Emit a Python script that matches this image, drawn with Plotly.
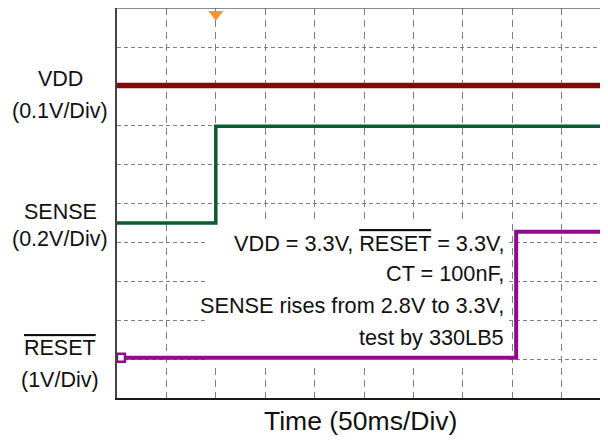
import plotly.graph_objects as go

# time in ms (50 ms / div), levels in screen divisions (0 = bottom, 10 = top)
vdd_t = [0, 500]
vdd_lvl = [8.01, 8.01]
sense_t = [0, 100, 100, 500]
sense_lvl = [4.49, 4.49, 6.97, 6.97]
reset_t = [0, 404, 404, 500]
reset_lvl = [1.03, 1.03, 4.26, 4.26]

trigger_t = [100]
note_lines = [
    'VDD = 3.3V, <span style="text-decoration:overline">RESET</span> = 3.3V,',
    'CT = 100nF,',
    'SENSE rises from 2.8V to 3.3V,',
    'test by 330LB5',
]
note_y = [3.97, 3.18, 2.38, 1.56]
label_text = ['VDD', '(0.1V/Div)', 'SENSE', '(0.2V/Div)',
              '<span style="text-decoration:overline">RESET</span>', '(1V/Div)']
label_y = [8.18, 7.36, 4.77, 4.08, 1.28, 0.46]
x_title = "Time (50ms/Div)"

FONT = "Liberation Sans, Arial, sans-serif"
fig = go.Figure()

fig.add_trace(go.Scatter(x=vdd_t, y=vdd_lvl, mode="lines",
                         line=dict(color="#860808", width=5.5), hoverinfo="skip"))
fig.add_trace(go.Scatter(x=sense_t, y=sense_lvl, mode="lines",
                         line=dict(color="#0c5c2c", width=3.5), hoverinfo="skip"))
fig.add_trace(go.Scatter(x=reset_t, y=reset_lvl, mode="lines",
                         line=dict(color="#900a90", width=4), hoverinfo="skip"))
fig.add_trace(go.Scatter(x=[4], y=[reset_lvl[0]], mode="markers",
                         marker=dict(symbol="square", size=8, color="white",
                                     line=dict(color="#900a90", width=2.5)),
                         hoverinfo="skip", cliponaxis=False))
fig.add_trace(go.Scatter(x=trigger_t, y=[9.84], mode="markers",
                         marker=dict(symbol="triangle-down", size=13, color="#f29436",
                                     line=dict(width=0)),
                         hoverinfo="skip", cliponaxis=False))

# white box behind note text (covers grid, below traces)
fig.add_shape(type="rect", xref="x", yref="y", x0=89, x1=395, y0=0.82, y1=4.5,
              fillcolor="white", line=dict(width=0), layer="between")
# top border
fig.add_shape(type="line", xref="paper", yref="paper", x0=0, x1=1, y0=1, y1=1,
              line=dict(color="#666666", width=1.5))

for txt, yy in zip(note_lines, note_y):
    fig.add_annotation(x=394, y=yy, xref="x", yref="y", text=txt, showarrow=False,
                       xanchor="right", yanchor="middle",
                       font=dict(family=FONT, size=21.7, color="#111111"))
for txt, yy in zip(label_text, label_y):
    fig.add_annotation(x=-0.115, y=yy, xref="paper", yref="y", text=txt, showarrow=False,
                       xanchor="center", yanchor="middle",
                       font=dict(family=FONT, size=21.5, color="#111111"))
fig.add_annotation(x=0.492, y=-0.0595, xref="paper", yref="paper", text=x_title,
                   showarrow=False, xanchor="center", yanchor="middle",
                   font=dict(family=FONT, size=26.5, color="#111111"))

fig.update_xaxes(range=[0, 500], dtick=50, tick0=0, showgrid=True, gridcolor="#808080",
                 gridwidth=1.3, griddash="7px,5px", zeroline=False, showticklabels=False,
                 ticks="", showline=True, linecolor="#1a1a1a", linewidth=2)
fig.update_yaxes(range=[0, 10], dtick=1, tick0=0, showgrid=True, gridcolor="#808080",
                 gridwidth=1.3, griddash="4px,3px", zeroline=False, showticklabels=False,
                 ticks="", showline=True, linecolor="#444444", linewidth=1.5)

fig.update_layout(width=608, height=443, margin=dict(l=109, r=5, t=0, b=53),
                  plot_bgcolor="white", paper_bgcolor="white", showlegend=False,
                  font=dict(family=FONT))

fig.write_html("out.html")
